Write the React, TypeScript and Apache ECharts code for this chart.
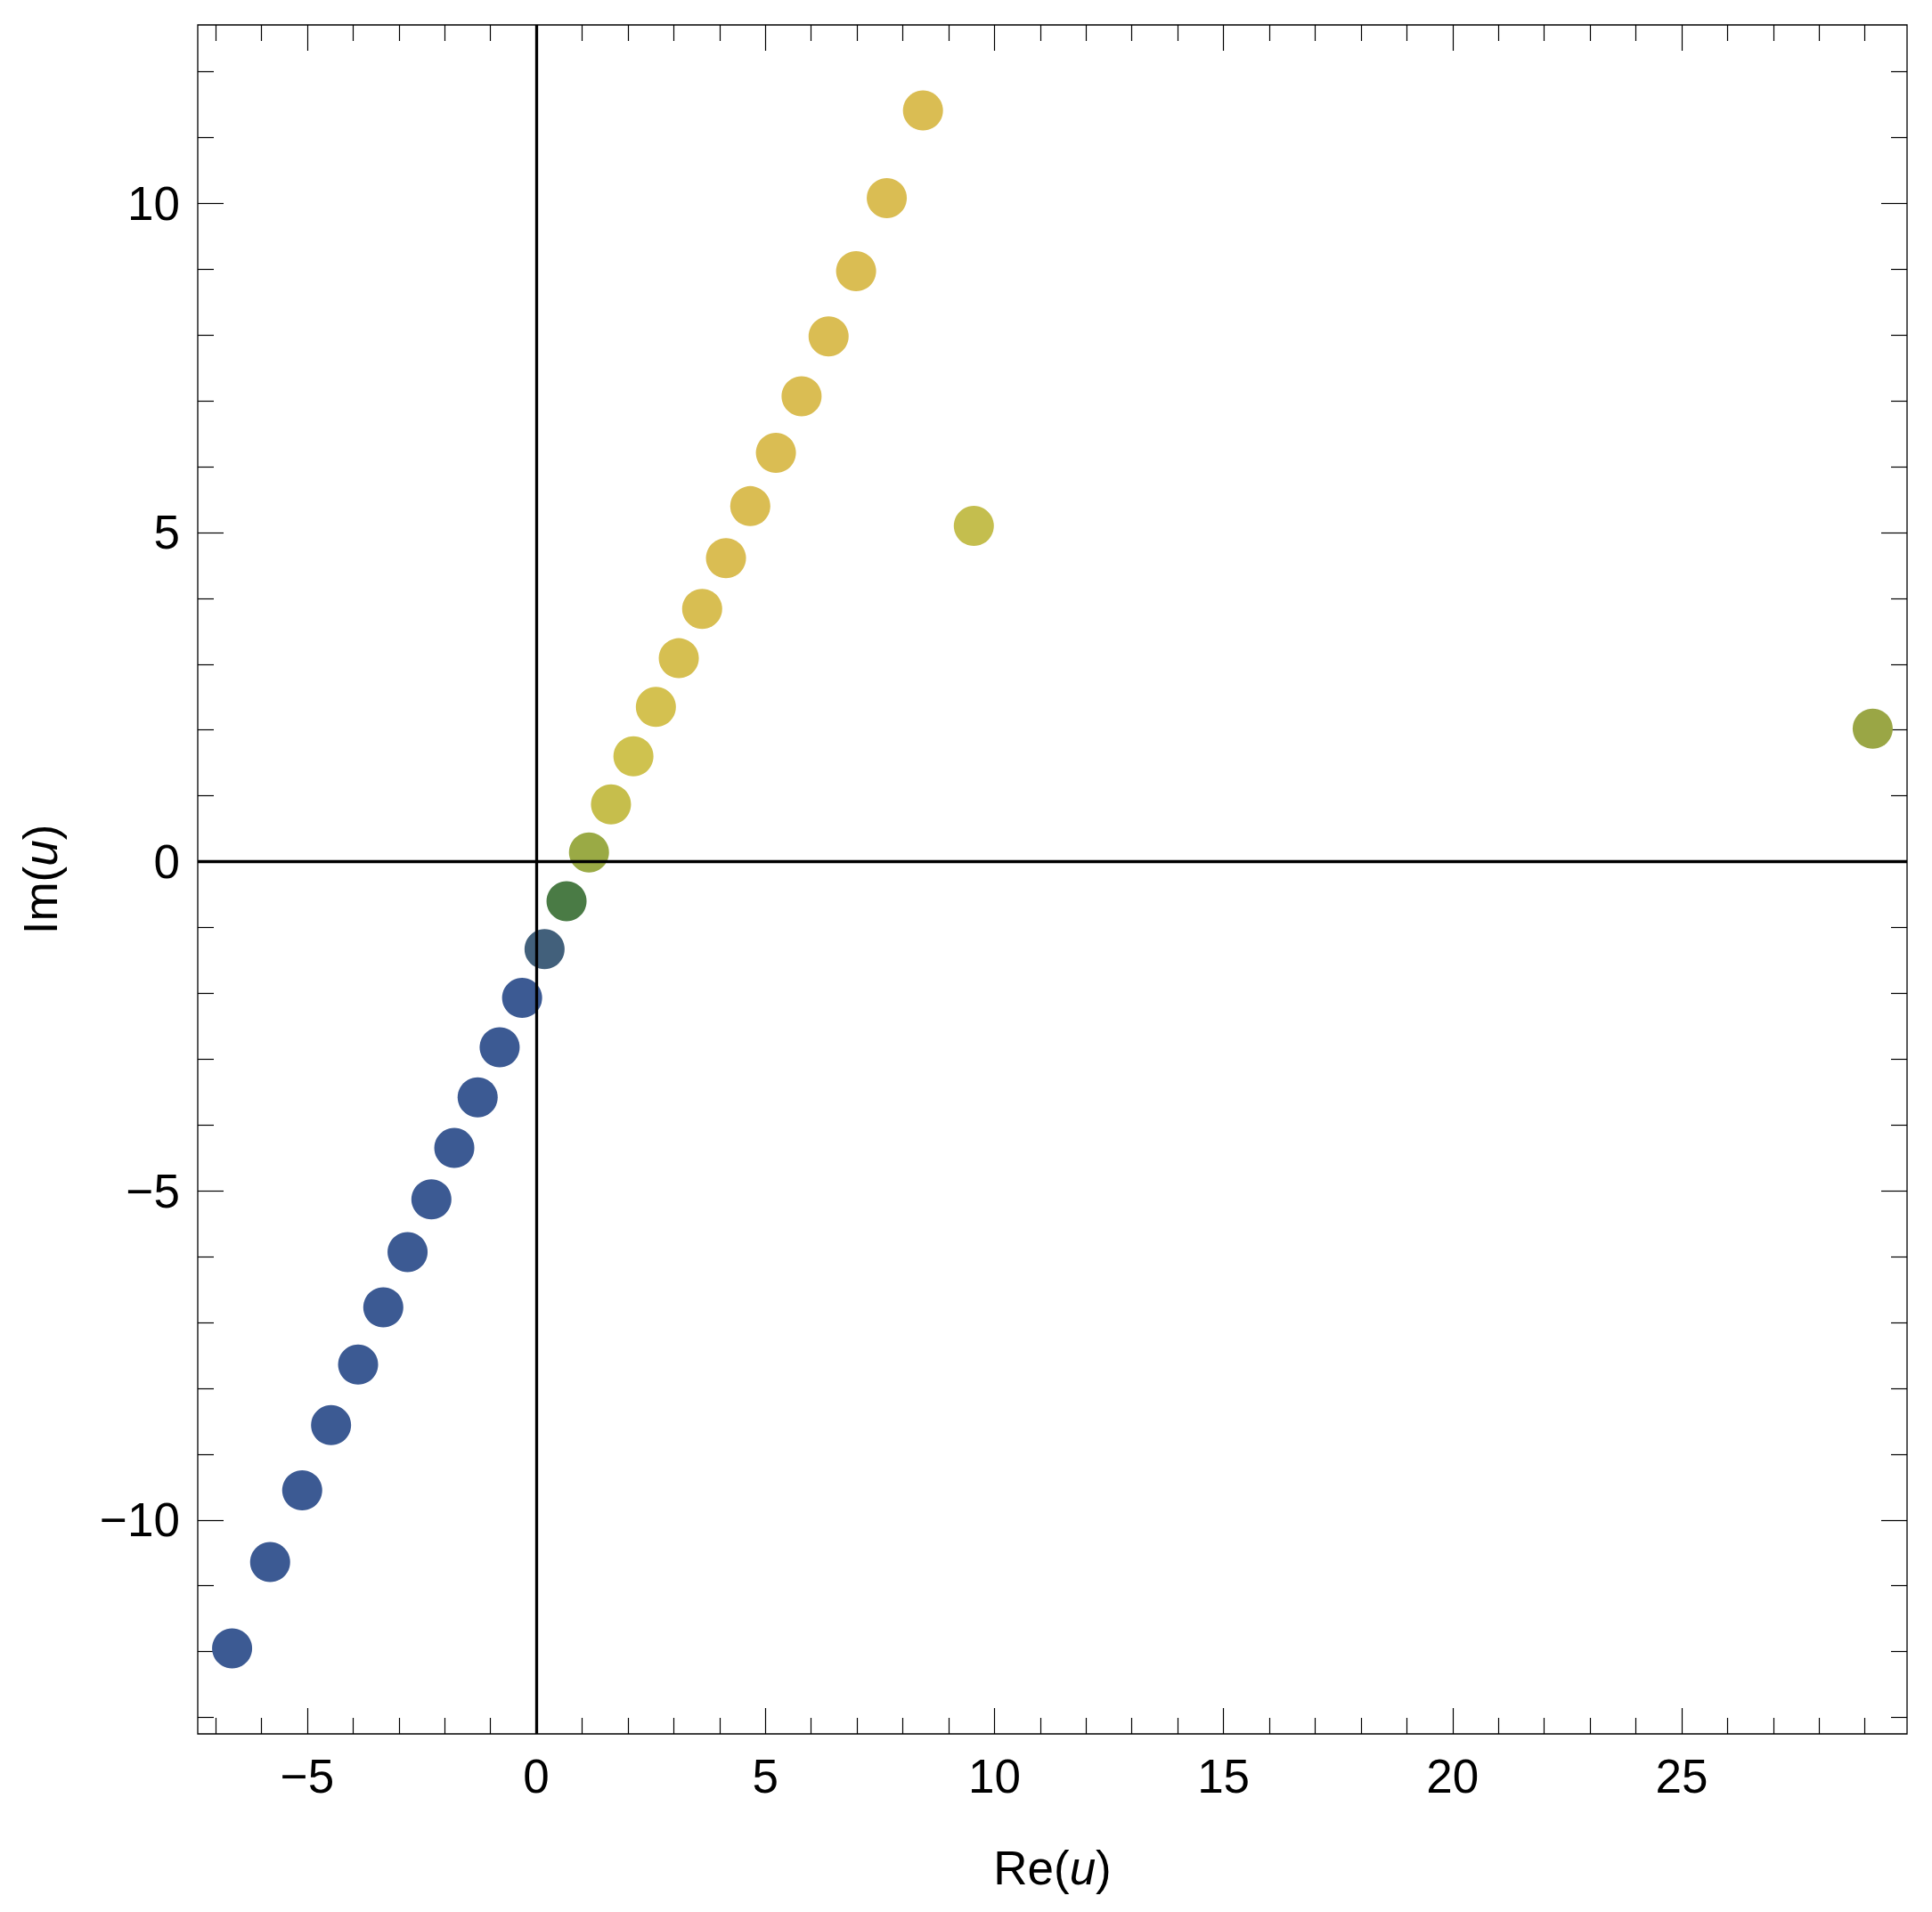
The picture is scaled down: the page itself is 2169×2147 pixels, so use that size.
import React, { useEffect, useRef } from "react";
import * as echarts from "echarts";

// Values
const reU = [-6.64, -5.81, -5.11, -4.48, -3.89, -3.34, -2.81, -2.29, -1.79, -1.28, -0.8, -0.31, 0.18, 0.66, 1.15, 1.63, 2.12, 2.61, 3.11, 3.62, 4.14, 4.67, 5.23, 5.79, 6.38, 6.98, 7.65, 8.44, 9.55, 29.17];
const imU = [-11.95, -10.64, -9.55, -8.56, -7.64, -6.77, -5.93, -5.13, -4.35, -3.58, -2.82, -2.07, -1.33, -0.6, 0.14, 0.87, 1.6, 2.35, 3.09, 3.84, 4.61, 5.4, 6.21, 7.07, 7.98, 8.97, 10.08, 11.41, 5.1, 2.02];

const BLUE = "#3C5A93";
const GOLD = "#DABD53";
const pointColors = [
  BLUE, BLUE, BLUE, BLUE, BLUE, BLUE, BLUE, BLUE, BLUE, BLUE, BLUE, BLUE,
  "#42607B", "#4A7B45", "#9AAA45", "#C6BE4C", "#CFC24F", "#D4C150", "#D6BF51", "#D8BE52",
  GOLD, GOLD, GOLD, GOLD, GOLD, GOLD, GOLD, GOLD,
  "#C4BE4E", "#9AA645",
];

const xMajorTicks = [-5, 0, 5, 10, 15, 20, 25];
const xMinorTicks = [-7, -6, -4, -3, -2, -1, 1, 2, 3, 4, 6, 7, 8, 9, 11, 12, 13, 14, 16, 17, 18, 19, 21, 22, 23, 24, 26, 27, 28, 29];
const yMajorTicks = [-10, -5, 0, 5, 10];
const yMinorTicks = [-13, -12, -11, -9, -8, -7, -6, -4, -3, -2, -1, 1, 2, 3, 4, 6, 7, 8, 9, 11, 12];
const xRange = [-7.39, 29.92];
const yRange = [-13.25, 12.71];

const FONT = "'Liberation Sans', Arial, Helvetica, sans-serif";
const FS = 53;

const fmt = (v: number) => (v < 0 ? "\u2212" + Math.abs(v) : String(v));

function tickAxis(kind: "x" | "y", position: string, ticks: number[], len: number, extra: any = {}) {
  const range = kind === "x" ? xRange : yRange;
  return {
    type: "value",
    position,
    min: range[0],
    max: range[1],
    axisLine: { show: false, onZero: false },
    splitLine: { show: false },
    axisTick: {
      show: true,
      inside: true,
      length: len,
      customValues: ticks,
      lineStyle: { color: "#000", width: 1.2 },
    },
    axisLabel: { show: false },
    ...extra,
  };
}

export default function App() {
  const ref = useRef<HTMLDivElement>(null);
  useEffect(() => {
    const chart = echarts.init(ref.current!, null, { renderer: "svg" });
    const data = reU.map((x, i) => ({
      value: [x, imU[i]],
      itemStyle: { color: pointColors[i], opacity: 1 },
    }));
    const labelStyle = (customValues: number[], margin: number) => ({
      show: true,
      customValues,
      formatter: fmt,
      fontSize: FS,
      fontFamily: FONT,
      color: "#000",
      margin,
    });
    const nameStyle = {
      fontSize: FS,
      fontFamily: FONT,
      color: "#000",
      rich: { i: { fontStyle: "italic", fontSize: FS, fontFamily: FONT, color: "#000" } },
    };
    chart.setOption({
      animation: false,
      backgroundColor: "#fff",
      grid: {
        left: 222,
        right: 28,
        top: 28,
        bottom: 200,
        show: true,
        borderColor: "#000",
        borderWidth: 1.3,
        backgroundColor: "transparent",
      },
      xAxis: [
        tickAxis("x", "bottom", xMajorTicks, 29, {
          axisLabel: labelStyle(xMajorTicks, 21),
          name: "Re({i|u})",
          nameLocation: "middle",
          nameGap: 124,
          nameTextStyle: nameStyle,
        }),
        tickAxis("x", "bottom", xMinorTicks, 18),
        tickAxis("x", "top", xMajorTicks, 29),
        tickAxis("x", "top", xMinorTicks, 18),
      ],
      yAxis: [
        tickAxis("y", "left", yMajorTicks, 29, {
          axisLabel: labelStyle(yMajorTicks, 20),
          name: "Im({i|u})",
          nameLocation: "middle",
          nameGap: 150,
          nameTextStyle: nameStyle,
        }),
        tickAxis("y", "left", yMinorTicks, 18),
        tickAxis("y", "right", yMajorTicks, 29),
        tickAxis("y", "right", yMinorTicks, 18),
      ],
      series: [
        {
          type: "scatter",
          xAxisIndex: 0,
          yAxisIndex: 0,
          symbol: "circle",
          symbolSize: 45,
          itemStyle: { opacity: 1 },
          data,
          markLine: {
            silent: true,
            symbol: "none",
            label: { show: false },
            lineStyle: { color: "#000", width: 3.3, type: "solid" },
            data: [{ xAxis: 0 }, { yAxis: 0 }],
          },
        },
      ],
    });
    return () => chart.dispose();
  }, []);
  return (
    <div
      ref={ref}
      style={{ position: "absolute", left: 0, top: 0, width: 2169, height: 2147, background: "#fff" }}
    />
  );
}
